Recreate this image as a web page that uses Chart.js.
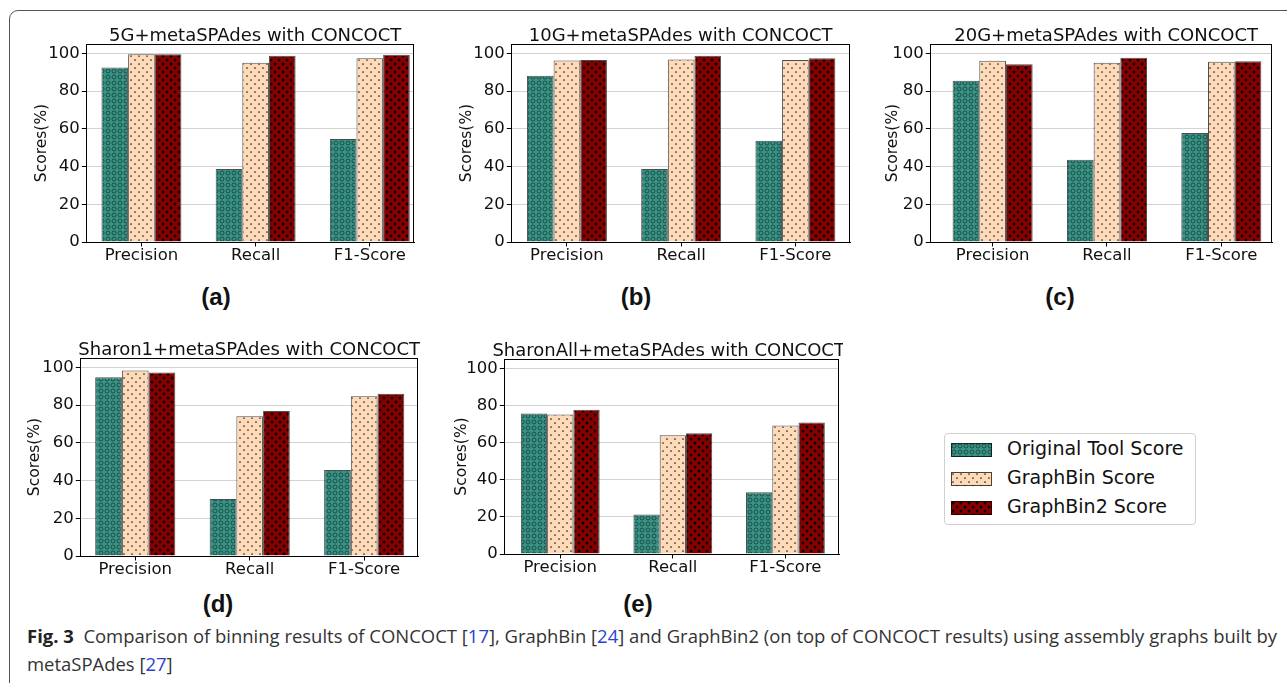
<!DOCTYPE html>
<html>
<head>
<meta charset="utf-8">
<script src="https://cdn.jsdelivr.net/npm/chart.js@4.4.1/dist/chart.umd.min.js"></script>
<style>
  body { margin:0; background:#fff; width:1287px; height:683px; overflow:hidden; position:relative; font-family:'DejaVu Sans'; }
  .frame { position:absolute; left:9px; top:10px; width:1330px; height:690px; border:1px solid #555; border-radius:9px; box-sizing:border-box; }
  canvas.panel { position:absolute; }
  .sub { position:absolute; font:bold 24px 'Liberation Sans'; color:#111; transform:translate(-50%,-50%); }
  .legend { position:absolute; left:944px; top:433px; width:252px; height:92px; border:1px solid #d0d0d0; border-radius:4px; box-sizing:border-box; }
  .legend .row { position:absolute; left:6px; height:20px; }
  .legend canvas { position:absolute; left:0; top:3px; }
  .legend span { position:absolute; left:56px; top:-3px; font:19px 'DejaVu Sans'; color:#111; white-space:nowrap; }
  .cap { position:absolute; left:27px; font-family:'Open Sans'; font-size:16px; color:#333; line-height:20px; white-space:nowrap; }
  .cap b { color:#222; }
  .cap .ref { color:#2b3fd6; }
</style>
</head>
<body>
<div class="frame"></div>

<canvas id="pa" class="panel"></canvas>
<canvas id="pb" class="panel"></canvas>
<canvas id="pc" class="panel"></canvas>
<canvas id="pd" class="panel"></canvas>
<canvas id="pe" class="panel"></canvas>

<div class="sub" style="left:216px;top:297px">(a)</div>
<div class="sub" style="left:636px;top:297px">(b)</div>
<div class="sub" style="left:1060px;top:297px">(c)</div>
<div class="sub" style="left:218px;top:604px">(d)</div>
<div class="sub" style="left:638px;top:604px">(e)</div>

<div class="legend" id="legend"></div>

<div class="cap" id="cap1" style="top:626px;"><b>Fig. 3</b>&nbsp; Comparison of binning results of CONCOCT [<span class="ref">17</span>], GraphBin [<span class="ref">24</span>] and GraphBin2 (on top of CONCOCT results) using assembly graphs built by</div>
<div class="cap" id="cap2" style="top:654px;">metaSPAdes [<span class="ref">27</span>]</div>

<script>
// data
const categories = ['Precision', 'Recall', 'F1-Score'];
const seriesNames = ['Original Tool Score', 'GraphBin Score', 'GraphBin2 Score'];

const orig5G  = [92.6, 38.7, 54.6];
const gb5G    = [99.6, 95.0, 97.5];
const gb2_5G  = [99.5, 98.8, 99.3];

const orig10G = [88.1, 38.7, 53.7];
const gb10G   = [96.3, 96.8, 96.5];
const gb2_10G = [96.5, 98.8, 97.5];

const orig20G = [85.5, 43.6, 57.8];
const gb20G   = [96.1, 95.0, 95.6];
const gb2_20G = [94.3, 97.7, 95.9];

const origSharon1 = [94.8, 30.2, 45.6];
const gbSharon1   = [98.4, 74.1, 84.7];
const gb2Sharon1  = [97.3, 76.9, 86.0];

const origSharonAll = [75.7, 21.3, 33.3];
const gbSharonAll   = [75.1, 64.0, 69.2];
const gb2SharonAll  = [77.7, 65.0, 70.8];

// hatch fills
function makePattern(kind) {
  var c = document.createElement('canvas');
  c.width = 8; c.height = 8;
  var g = c.getContext('2d');
  if (kind === 0) {
    c.width = 6; c.height = 6;
    g.fillStyle = '#3a9184';
    g.fillRect(0, 0, 6, 6);
    g.strokeStyle = 'rgba(10,50,44,0.75)';
    g.lineWidth = 0.9;
    g.beginPath(); g.arc(3, 3, 2, 0, Math.PI * 2); g.stroke();
  } else if (kind === 1) {
    g.fillStyle = '#ffdab9';
    g.fillRect(0, 0, 8, 8);
    g.fillStyle = '#222';
    [[2, 2], [6, 6]].forEach(function (p) { g.beginPath(); g.arc(p[0], p[1], 0.85, 0, Math.PI * 2); g.fill(); });
  } else {
    g.fillStyle = '#850000';
    g.fillRect(0, 0, 8, 8);
    g.fillStyle = '#000';
    [[2, 2], [6, 6]].forEach(function (p) {
      g.beginPath();
      for (var k = 0; k < 10; k++) {
        var r = k % 2 ? 0.9 : 2.1;
        var a = -Math.PI / 2 + k * Math.PI / 5;
        g.lineTo(p[0] + r * Math.cos(a), p[1] + r * Math.sin(a));
      }
      g.closePath(); g.fill();
    });
  }
  return g.createPattern(c, 'repeat');
}
var fills = [makePattern(0), makePattern(1), makePattern(2)];

var panels = [
  { id: 'pa', title: '5G+metaSPAdes with CONCOCT', data: [orig5G, gb5G, gb2_5G],
    area: { l: 86, t: 44, r: 414, b: 242 }, xr: [-0.483, 2.387], yDist: 44, tdx: 5 },
  { id: 'pb', title: '10G+metaSPAdes with CONCOCT', data: [orig10G, gb10G, gb2_10G],
    area: { l: 511, t: 44, r: 850, b: 242 }, xr: [-0.487, 2.478], yDist: 44, tdx: 0 },
  { id: 'pc', title: '20G+metaSPAdes with CONCOCT', data: [orig20G, gb20G, gb2_20G],
    area: { l: 930, t: 44, r: 1272, b: 242 }, xr: [-0.545, 2.443], yDist: 37, tdx: 5 },
  { id: 'pd', title: 'Sharon1+metaSPAdes with CONCOCT', data: [origSharon1, gbSharon1, gb2Sharon1],
    area: { l: 80, t: 358, r: 418, b: 556 }, xr: [-0.48, 2.47], yDist: 45, tdx: 0 },
  { id: 'pe', title: 'SharonAll+metaSPAdes with CONCOCT', data: [origSharonAll, gbSharonAll, gb2SharonAll],
    area: { l: 504, t: 359, r: 839, b: 554 }, xr: [-0.497, 2.476], yDist: 42, tdx: -3 }
];

var TITLE_H = 30, X_H = 34, PAD_R = 4;

// axes box + panel title
var boxPlugin = {
  id: 'box',
  afterDatasetsDraw: function (chart) {
    var a = chart.chartArea, ctx = chart.ctx;
    ctx.save();
    ctx.strokeStyle = '#000';
    ctx.lineWidth = 1;
    ctx.strokeRect(Math.round(a.left) + 0.5, Math.round(a.top) + 0.5,
                   Math.round(a.right - a.left) - 1, Math.round(a.bottom - a.top));
    ctx.restore();
  },
  afterDraw: function (chart) {
    var o = chart.options.plugins.box, a = chart.chartArea, ctx = chart.ctx;
    ctx.save();
    ctx.font = '18px "DejaVu Sans"';
    ctx.fillStyle = '#111';
    ctx.textAlign = 'center';
    ctx.textBaseline = 'alphabetic';
    ctx.fillText(o.text, (a.left + a.right) / 2 + o.dx, a.top - 3.5);
    ctx.restore();
  }
};

Chart.defaults.font.family = 'DejaVu Sans';
Chart.defaults.color = '#111';

panels.forEach(function (p) {
  var cv = document.getElementById(p.id);
  var yW = p.yDist + 9.3;
  var w = Math.round(yW + (p.area.r - p.area.l) + PAD_R);
  var h = TITLE_H + (p.area.b - p.area.t) + X_H;
  cv.width = w; cv.height = h;
  cv.style.left = (p.area.l - yW) + 'px';
  cv.style.top = (p.area.t - TITLE_H) + 'px';

  new Chart(cv, {
    type: 'bar',
    data: {
      datasets: p.data.map(function (vals, s) {
        return {
          label: seriesNames[s],
          data: vals.map(function (v, i) { return { x: i, y: v }; }),
          backgroundColor: fills[s],
          borderColor: 'rgba(0,0,0,0.7)',
          borderWidth: 1,
          categoryPercentage: 0.70,
          barPercentage: 1.0
        };
      })
    },
    options: {
      responsive: false,
      animation: false,
      events: [],
      layout: { padding: { left: 0, right: PAD_R, top: TITLE_H, bottom: 0 } },
      plugins: {
        legend: { display: false },
        tooltip: { enabled: false },
        box: { text: p.title, dx: p.tdx }
      },
      scales: {
        x: {
          type: 'linear', min: p.xr[0], max: p.xr[1], offset: false,
          grid: { offset: false, drawOnChartArea: false, tickLength: 4.5, tickColor: '#000' },
          border: { color: '#000' },
          ticks: {
            stepSize: 1, includeBounds: false, padding: 1, autoSkip: false, maxRotation: 0,
            font: { size: 16.5, lineHeight: 1 },
            callback: function (v) { return categories[v] !== undefined ? categories[v] : ''; }
          },
          afterFit: function (s) { s.height = X_H; }
        },
        y: {
          min: 0, max: 105,
          grid: { color: '#d3d3d3', tickColor: '#000', tickLength: 4.5 },
          border: { color: '#000' },
          ticks: { stepSize: 20, includeBounds: false, padding: 2, font: { size: 16.5 } },
          title: { display: true, text: 'Scores(%)', font: { size: 15.5 }, padding: 0 },
          afterFit: function (s) { s.width = yW; }
        }
      }
    },
    plugins: [boxPlugin]
  });
});

// legend
var lg = document.getElementById('legend');
seriesNames.forEach(function (name, s) {
  var row = document.createElement('div');
  row.className = 'row';
  row.style.top = (6 + s * 29) + 'px';
  var sw = document.createElement('canvas');
  sw.width = 41; sw.height = 14;
  var g = sw.getContext('2d');
  g.fillStyle = fills[s];
  g.fillRect(0, 0, 41, 14);
  g.strokeStyle = 'rgba(0,0,0,0.7)';
  g.strokeRect(0.5, 0.5, 40, 13);
  row.appendChild(sw);
  var t = document.createElement('span');
  t.textContent = name;
  row.appendChild(t);
  lg.appendChild(row);
});

// caption: scale the font so line 1 spans the same width as in the figure
var cap1 = document.getElementById('cap1'), cap2 = document.getElementById('cap2');
var natural = cap1.getBoundingClientRect().width;
var fs = 16 * 1251 / natural;
cap1.style.fontSize = fs + 'px';
cap2.style.fontSize = fs + 'px';
</script>
</body>
</html>
